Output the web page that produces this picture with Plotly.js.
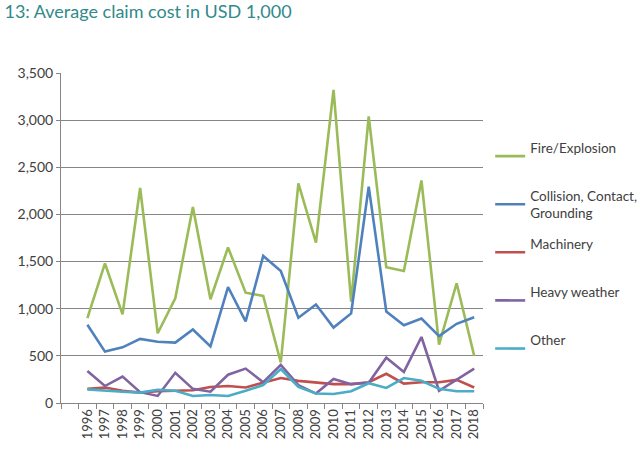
<!DOCTYPE html>
<html>
<head>
<meta charset="utf-8">
<script src="https://cdn.plot.ly/plotly-3.0.1.min.js"></script>
<style>
  html, body { margin: 0; padding: 0; background: #fff; }
  #chart { width: 640px; height: 456px; }
</style>
</head>
<body>
<div id="chart"></div>
<script>
var years = [1996, 1997, 1998, 1999, 2000, 2001, 2002, 2003, 2004, 2005, 2006, 2007,
             2008, 2009, 2010, 2011, 2012, 2013, 2014, 2015, 2016, 2017, 2018];

var fireExplosion = [900, 1480, 940, 2280, 740, 1110, 2080, 1100, 1650, 1170, 1135, 430,
                     2330, 1700, 3320, 1075, 3040, 1440, 1400, 2360, 620, 1270, 500];
var collision = [830, 545, 590, 680, 650, 640, 780, 600, 1230, 865, 1560, 1400,
                 905, 1045, 800, 950, 2295, 970, 825, 895, 710, 840, 910];
var machinery = [150, 165, 130, 110, 125, 130, 135, 170, 180, 165, 215, 265,
                 235, 220, 200, 200, 220, 310, 205, 220, 220, 245, 165];
var heavyWeather = [340, 180, 280, 115, 75, 320, 150, 120, 300, 365, 220, 405,
                    190, 100, 255, 200, 215, 480, 330, 700, 130, 245, 365];
var other = [145, 130, 120, 110, 140, 130, 75, 85, 75, 130, 190, 360,
             170, 100, 95, 125, 210, 160, 265, 235, 150, 125, 125];

// every legend entry is two lines tall so the entries are evenly spaced
var seriesNames = ["Fire/Explosion<br>\u00a0", "Collision, Contact,<br>Grounding", "Machinery<br>\u00a0",
                   "Heavy weather<br>\u00a0", "Other<br>\u00a0"];
var seriesValues = [fireExplosion, collision, machinery, heavyWeather, other];
var seriesColors = ["#9BBB59", "#4F81BD", "#C0504D", "#8064A2", "#4BACC6"];

var chartData = [];
for (var i = 0; i < seriesValues.length; i++) {
    chartData.push({
        x: years,
        y: seriesValues[i],
        name: seriesNames[i],
        legendgroup: "g" + i,
        mode: "lines",
        line: { color: seriesColors[i], width: 2.6 },
        hoverinfo: "x+y+name"
    });
}

// tick marks sit on the boundaries between years
var boundaries = [];
for (var b = 1994.5; b <= 2018.5; b += 1) { boundaries.push(b); }

var chartLayout = {
    width: 640,
    height: 456,
    paper_bgcolor: "#ffffff",
    plot_bgcolor: "#ffffff",
    margin: { l: 61, r: 157, t: 73, b: 53, autoexpand: false },
    font: { family: "Lato, 'Open Sans', sans-serif", color: "#404040", size: 12 },
    title: {
        text: "13: Average claim cost in USD 1,000",
        font: { family: "Lato, 'Open Sans', sans-serif", size: 18, color: "#2F8A8A" },
        x: 0.007,
        xanchor: "left",
        xref: "container",
        y: 0.975,
        yanchor: "middle",
        yref: "container"
    },
    xaxis: {
        type: "linear",
        range: [1994.5, 2018.5],
        tickvals: years,
        ticktext: years.map(String),
        tickangle: -90,
        ticks: "",
        showgrid: false,
        zeroline: false,
        showline: true,
        linecolor: "#868686",
        linewidth: 1,
        tickfont: { size: 13, color: "#404040" },
        minor: {
            tickvals: boundaries,
            ticks: "outside",
            ticklen: 5,
            tickcolor: "#868686",
            showgrid: false
        }
    },
    yaxis: {
        range: [0, 3500],
        dtick: 500,
        tickformat: ",d",
        ticks: "outside",
        ticklen: 4,
        tickcolor: "#868686",
        showgrid: true,
        gridcolor: "#868686",
        gridwidth: 1,
        zeroline: false,
        showline: true,
        linecolor: "#868686",
        linewidth: 1,
        tickfont: { size: 14, color: "#404040" }
    },
    showlegend: true,
    legend: {
        x: 1.017,
        xanchor: "left",
        y: 0.821,
        yanchor: "top",
        traceorder: "grouped",
        tracegroupgap: 10,
        itemwidth: 30,
        font: { size: 13.5, color: "#404040" },
        bgcolor: "rgba(0,0,0,0)"
    }
};

var chartConfig = { displayModeBar: false, staticPlot: true };

Plotly.newPlot("chart", chartData, chartLayout, chartConfig);
</script>
</body>
</html>
